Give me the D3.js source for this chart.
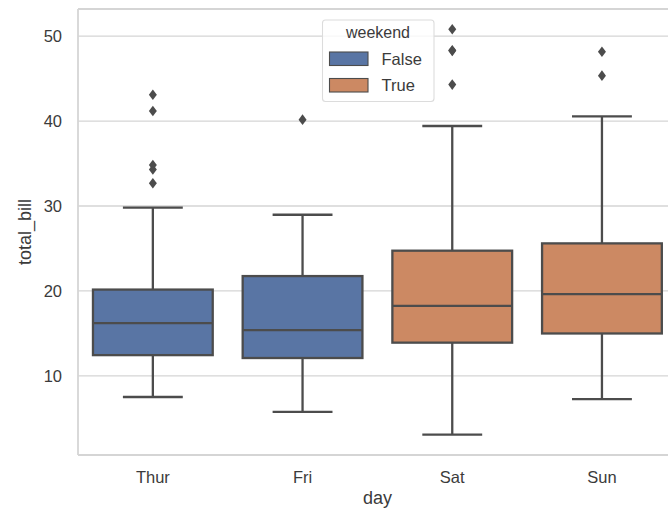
<!DOCTYPE html>
<html>
<head>
<meta charset="utf-8">
<script src="https://cdn.jsdelivr.net/npm/d3@7"></script>
<style>
  body { margin: 0; background: #fff; }
  svg { display: block; font-family: "Liberation Sans", Arial, sans-serif; }
</style>
</head>
<body>
<svg id="chart" width="668" height="510"></svg>
<script>
"use strict";

// box statistics (tips: total_bill by day)
const days = ["Thur", "Fri", "Sat", "Sun"];
const weekend = [false, false, true, true];
const q1 = [12.44, 12.10, 13.91, 14.99];
const median = [16.20, 15.38, 18.24, 19.63];
const q3 = [20.16, 21.75, 24.74, 25.60];
const whiskerLow = [7.51, 5.75, 3.07, 7.25];
const whiskerHigh = [29.80, 28.97, 39.42, 40.55];
const outliers = [
    [32.68, 34.30, 34.83, 41.19, 43.11],
    [40.17],
    [44.30, 48.27, 48.33, 50.81],
    [45.35, 48.17]
];
const yTicks = [10, 20, 30, 40, 50];
const legendLabels = ["False", "True"];

const COLORS = {false: "#5975a4", true: "#cc8963"};
const LINE = "#4c4c4c";
const GRID = "#d5d5d5";

const LEFT = 78, TOP = 9, BOTTOM = 455;
const STEP = 149.7;

let svg = d3.select("#chart");

let x = d3.scaleBand()
          .domain(days)
          .range([LEFT, LEFT + STEP * days.length])
          .padding(0);
let y = d3.scaleLinear()
          .domain([0.68, 53.2])
          .range([BOTTOM, TOP]);

const BW = x.bandwidth() * 0.8;
const cx = (d) => x(d) + x.bandwidth() / 2;

// grid lines
svg.append("g")
   .selectAll("line")
   .data(yTicks)
   .join("line")
   .attr("x1", LEFT).attr("x2", LEFT + STEP * days.length)
   .attr("y1", (d) => y(d)).attr("y2", (d) => y(d))
   .attr("stroke", GRID)
   .attr("stroke-width", 1.3);

let boxes = svg.append("g")
               .selectAll("g")
               .data(days.map((d, i) => ({day: d, i: i})))
               .join("g");

// whiskers
boxes.append("line")
     .attr("x1", (d) => cx(d.day)).attr("x2", (d) => cx(d.day))
     .attr("y1", (d) => y(q3[d.i])).attr("y2", (d) => y(whiskerHigh[d.i]))
     .attr("stroke", LINE).attr("stroke-width", 2.3);
boxes.append("line")
     .attr("x1", (d) => cx(d.day)).attr("x2", (d) => cx(d.day))
     .attr("y1", (d) => y(q1[d.i])).attr("y2", (d) => y(whiskerLow[d.i]))
     .attr("stroke", LINE).attr("stroke-width", 2.3);

// caps
for (let key of ["hi", "lo"])
{
    boxes.append("line")
         .attr("x1", (d) => cx(d.day) - BW / 4).attr("x2", (d) => cx(d.day) + BW / 4)
         .attr("y1", (d) => y(key === "hi" ? whiskerHigh[d.i] : whiskerLow[d.i]))
         .attr("y2", (d) => y(key === "hi" ? whiskerHigh[d.i] : whiskerLow[d.i]))
         .attr("stroke", LINE).attr("stroke-width", 2.3);
}

// boxes
boxes.append("rect")
     .attr("x", (d) => cx(d.day) - BW / 2)
     .attr("width", BW)
     .attr("y", (d) => y(q3[d.i]))
     .attr("height", (d) => y(q1[d.i]) - y(q3[d.i]))
     .attr("fill", (d) => COLORS[weekend[d.i]])
     .attr("stroke", LINE).attr("stroke-width", 2.3);

boxes.append("line")
     .attr("x1", (d) => cx(d.day) - BW / 2).attr("x2", (d) => cx(d.day) + BW / 2)
     .attr("y1", (d) => y(median[d.i])).attr("y2", (d) => y(median[d.i]))
     .attr("stroke", LINE).attr("stroke-width", 2.3);

// outliers as thin diamonds
boxes.selectAll("path")
     .data((d) => outliers[d.i].map((v) => ({day: d.day, v: v})))
     .join("path")
     .attr("d", "M0,-5.3L4,0L0,5.3L-4,0Z")
     .attr("transform", (p) => "translate(" + cx(p.day) + "," + y(p.v) + ")")
     .attr("fill", LINE);

// spines
svg.append("line")
   .attr("x1", LEFT).attr("x2", LEFT).attr("y1", TOP).attr("y2", BOTTOM)
   .attr("stroke", GRID).attr("stroke-width", 1.8);
svg.append("line")
   .attr("x1", LEFT).attr("x2", 700).attr("y1", TOP).attr("y2", TOP)
   .attr("stroke", GRID).attr("stroke-width", 1.8);
svg.append("line")
   .attr("x1", LEFT).attr("x2", 700).attr("y1", BOTTOM).attr("y2", BOTTOM)
   .attr("stroke", GRID).attr("stroke-width", 1.8);

// axes without tick marks
let yAxis = svg.append("g")
               .attr("transform", "translate(" + LEFT + ",0)")
               .call(d3.axisLeft(y).tickValues(yTicks).tickSize(0).tickPadding(16));
let xAxis = svg.append("g")
               .attr("transform", "translate(0," + BOTTOM + ")")
               .call(d3.axisBottom(x).tickSize(0).tickPadding(16));
for (let ax of [xAxis, yAxis])
{
    ax.select(".domain").remove();
    ax.selectAll("text")
      .attr("fill", "#3b3b3b")
      .attr("font-size", "16.5px")
      .attr("font-family", "Liberation Sans, Arial, sans-serif");
}

// axis titles
svg.append("text")
   .attr("x", cx("Thur") + (cx("Sun") - cx("Thur")) / 2)
   .attr("y", 504)
   .attr("text-anchor", "middle")
   .attr("font-size", "18px")
   .attr("fill", "#3b3b3b")
   .text("day");
svg.append("text")
   .attr("transform", "translate(31," + (TOP + BOTTOM) / 2 + ") rotate(-90)")
   .attr("text-anchor", "middle")
   .attr("font-size", "18px")
   .attr("fill", "#3b3b3b")
   .text("total_bill");

// legend
let legend = svg.append("g");
legend.append("rect")
      .attr("x", 322.5).attr("y", 20)
      .attr("width", 111.5).attr("height", 81.5)
      .attr("rx", 3)
      .attr("fill", "rgba(255,255,255,0.8)")
      .attr("stroke", "#dcdcdc").attr("stroke-width", 1.1);
legend.append("text")
      .attr("x", 378).attr("y", 38)
      .attr("text-anchor", "middle")
      .attr("font-size", "16px")
      .attr("fill", "#3b3b3b")
      .text("weekend");
legend.selectAll("g")
      .data(legendLabels)
      .join("g")
      .attr("transform", (d, i) => "translate(0," + (i * 26.5) + ")")
      .call((g) =>
      {
          g.append("rect")
           .attr("x", 329.5).attr("y", 52)
           .attr("width", 38.5).attr("height", 13.5)
           .attr("fill", (d) => COLORS[d === "True"])
           .attr("stroke", LINE).attr("stroke-width", 1.1);
          g.append("text")
           .attr("x", 381.5).attr("y", 64.5)
           .attr("font-size", "16.5px")
           .attr("fill", "#3b3b3b")
           .text((d) => d);
      });
</script>
</body>
</html>
